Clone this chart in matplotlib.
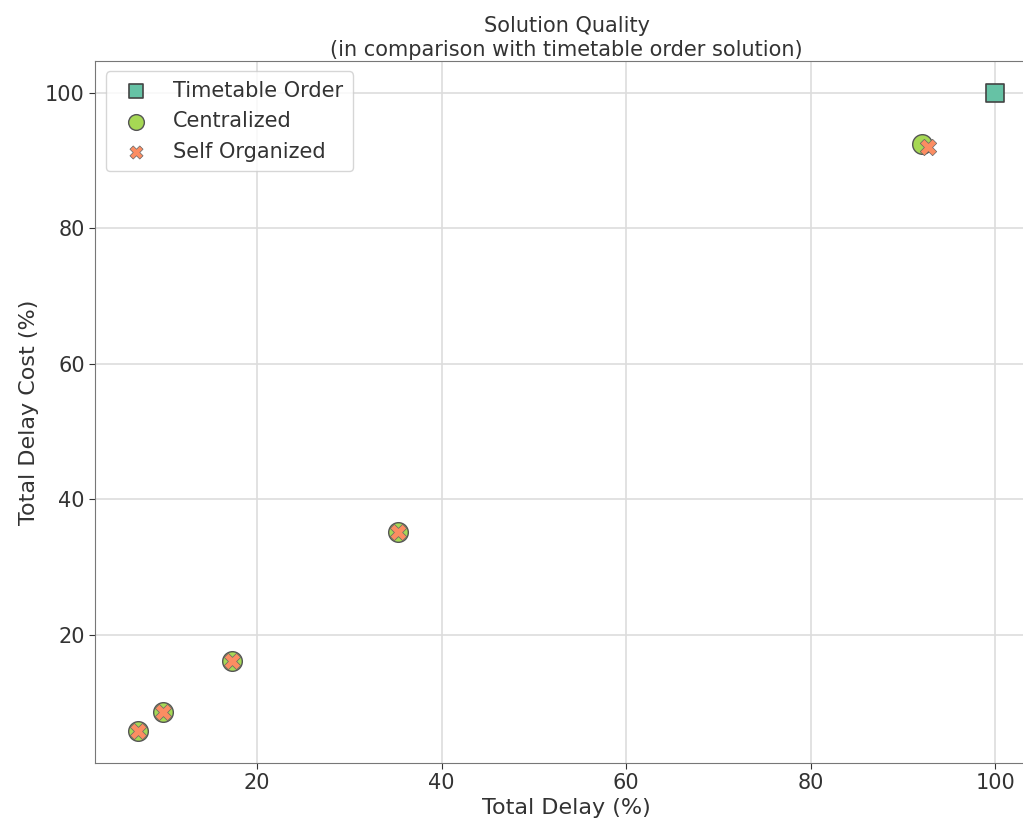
import matplotlib
matplotlib.use("Agg")
import matplotlib.pyplot as plt

# values (percent of timetable order solution)
timetable_delay = [100.0]
timetable_cost = [100.0]

central_delay = [7.1, 9.8, 17.3, 35.3, 92.0]
central_cost = [5.8, 8.6, 16.1, 35.2, 92.5]

selforg_delay = [7.1, 9.8, 17.3, 35.3, 92.7]
selforg_cost = [5.8, 8.6, 16.1, 35.2, 92.0]

series_labels = ["Timetable Order", "Centralized", "Self Organized"]
series_colors = ["#66c2a5", "#a6d854", "#fc8d62"]

fig = plt.figure(figsize=(10.23, 8.21), dpi=100)
# axes run a bit past the right edge, as in the cropped original
ax = fig.add_axes([0.093, 0.0706, 0.922, 0.855])

ax.scatter(timetable_delay, timetable_cost, marker="s", s=160,
           color=series_colors[0], edgecolor="#444444", linewidth=1.2,
           label=series_labels[0], zorder=3)
ax.scatter(central_delay, central_cost, marker="o", s=200,
           color=series_colors[1], edgecolor="#555555", linewidth=1.0,
           label=series_labels[1], zorder=3)
ax.scatter(selforg_delay, selforg_cost, marker="X", s=140,
           color=series_colors[2], edgecolor="#666666", linewidth=0.5,
           label=series_labels[2], zorder=4)

ax.set_title("Solution Quality\n(in comparison with timetable order solution)",
             fontsize=15, color="#333333", pad=4)
ax.set_xlabel("Total Delay (%)", fontsize=16, color="#333333", labelpad=3)
ax.set_ylabel("Total Delay Cost (%)", fontsize=16, color="#333333")
ax.tick_params(labelsize=15, colors="#333333", length=4)
for side in ["left", "bottom", "top", "right"]:
    ax.spines[side].set_color("#777777")
ax.grid(True, color="#dddddd", linewidth=1.2)
ax.set_axisbelow(True)

ax.legend(loc="upper left", fontsize=15, labelcolor="#333333", markerscale=0.8,
          borderpad=0.45, handletextpad=0.8, labelspacing=0.5)

fig.savefig("out.png", dpi=100)
